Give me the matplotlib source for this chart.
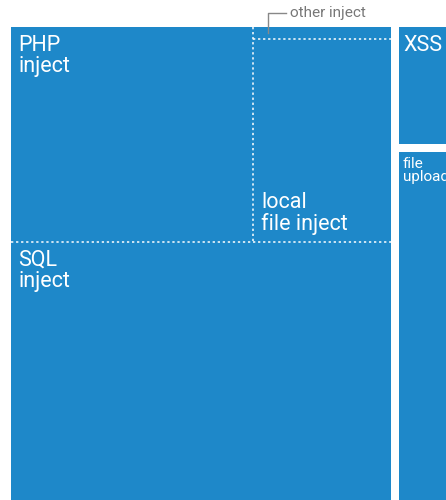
import matplotlib
matplotlib.use('Agg')
import matplotlib.pyplot as plt
from matplotlib.patches import Rectangle

# treemap cell sizes (area units, visible part of the chart)
inject_labels = ['PHP\ninject', 'local\nfile inject', 'other inject', 'SQL\ninject']
inject_values = [52000, 28000, 1650, 99500]
side_labels = ['XSS', 'file\nupload']
side_values = [5500, 16800]

BLUE = '#1e88c9'
plt.rcParams['font.family'] = ['Roboto', 'DejaVu Sans']

fig = plt.figure(figsize=(4.46, 5.0), dpi=100)
ax = fig.add_axes([0, 0, 1, 1])
ax.set_xlim(0, 446)
ax.set_ylim(500, 0)
ax.axis('off')

# injection group
gx, gy, gw = 11, 27, 380
php, local, other, sql = inject_values
top_h = (php + local + other) / gw
php_w = php / top_h
rest_w = gw - php_w
other_h = other / rest_w
sql_h = sql / gw

ax.add_patch(Rectangle((gx, gy), gw, top_h + sql_h, color=BLUE, lw=0))
dot = dict(color='white', lw=1.1, linestyle=(0, (1.5, 1.8)))
ax.plot([gx, gx + gw], [gy + top_h] * 2, **dot)
ax.plot([gx + php_w] * 2, [gy, gy + top_h], **dot)
ax.plot([gx + php_w, gx + gw], [gy + other_h] * 2, **dot)

txt = dict(color='white', fontsize=15.5, linespacing=1.0)
ax.text(gx + 7, gy + 8, inject_labels[0], va='top', **txt)
ax.text(gx + php_w + 8, gy + top_h - 7, inject_labels[1], va='bottom', **txt)
ax.text(gx + 7, gy + top_h + 8, inject_labels[3], va='top', **txt)

# leader for the tiny "other inject" cell
lx = gx + php_w + 15
ax.plot([lx, lx, lx + 18], [gy + other_h - 6, 13, 13], color='#888888', lw=1)
ax.text(lx + 22, 13, inject_labels[2], color='#777777', fontsize=11,
        va='center')

# side column
sx, sw, gap = 399, 47, 8
xss_h = side_values[0] / sw
up_h = side_values[1] / sw
ax.add_patch(Rectangle((sx, gy), sw, xss_h, color=BLUE, lw=0))
ax.add_patch(Rectangle((sx, gy + xss_h + gap), sw, up_h, color=BLUE, lw=0))
ax.text(sx + 4, gy + 8, side_labels[0], va='top', **txt)
ax.text(sx + 4, gy + xss_h + gap + 5, side_labels[1], va='top', color='white',
        fontsize=11, linespacing=0.95)

fig.savefig('out.png', dpi=100)
